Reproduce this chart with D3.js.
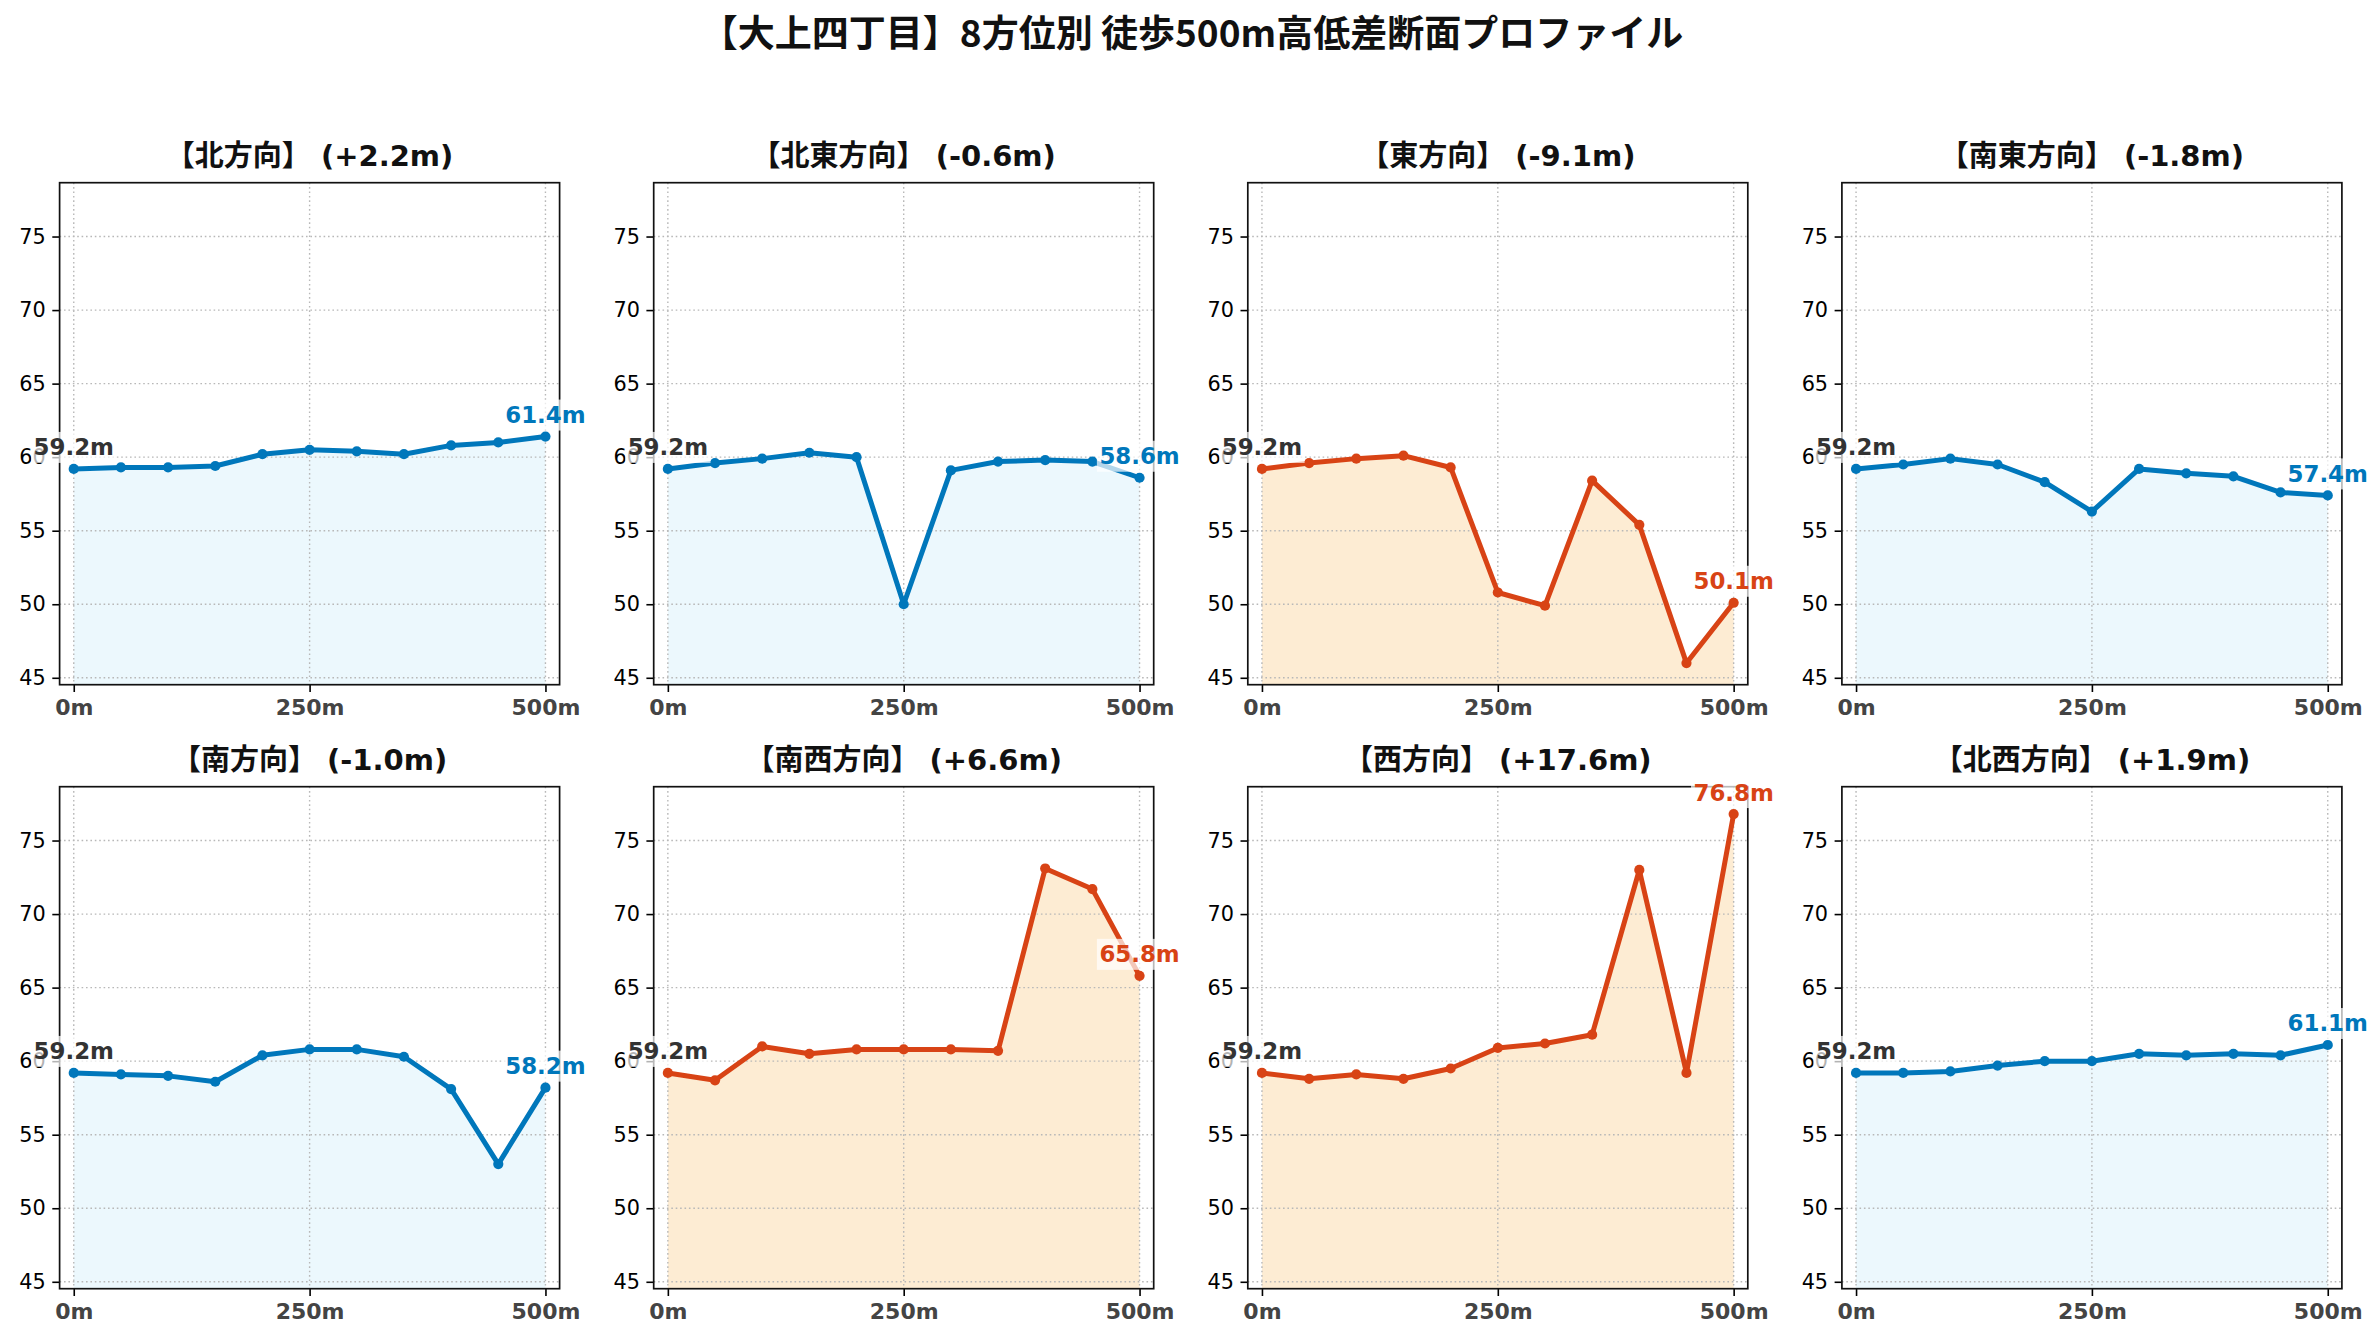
<!DOCTYPE html>
<html>
<head>
<meta charset="utf-8">
<script src="https://cdn.jsdelivr.net/npm/d3@7/dist/d3.min.js"></script>
<style>
  html, body { margin: 0; padding: 0; background: #ffffff; }
  svg { display: block; }
</style>
</head>
<body>
<svg id="chart" width="2380" height="1340"></svg>
<script>
// ---------------- DATA ----------------
const chartTitle = "【大上四丁目】8方位別 徒歩500m高低差断面プロファイル";
const distances = [0, 50, 100, 150, 200, 250, 300, 350, 400, 450, 500];
const directions = ["北", "北東", "東", "南東", "南", "南西", "西", "北西"];

const northValues     = [59.2, 59.3, 59.3, 59.4, 60.2, 60.5, 60.4, 60.2, 60.8, 61.0, 61.4];
const northEastValues = [59.2, 59.6, 59.9, 60.3, 60.0, 50.0, 59.1, 59.7, 59.8, 59.7, 58.6];
const eastValues      = [59.2, 59.6, 59.9, 60.1, 59.3, 50.8, 49.9, 58.4, 55.4, 46.0, 50.1];
const southEastValues = [59.2, 59.5, 59.9, 59.5, 58.3, 56.3, 59.2, 58.9, 58.7, 57.6, 57.4];
const southValues     = [59.2, 59.1, 59.0, 58.6, 60.4, 60.8, 60.8, 60.3, 58.1, 53.0, 58.2];
const southWestValues = [59.2, 58.7, 61.0, 60.5, 60.8, 60.8, 60.8, 60.7, 73.1, 71.7, 65.8];
const westValues      = [59.2, 58.8, 59.1, 58.8, 59.5, 60.9, 61.2, 61.8, 73.0, 59.2, 76.8];
const northWestValues = [59.2, 59.2, 59.3, 59.7, 60.0, 60.0, 60.5, 60.4, 60.5, 60.4, 61.1];

const seriesValues = [northValues, northEastValues, eastValues, southEastValues,
                      southValues, southWestValues, westValues, northWestValues];

const yTickValues = [45, 50, 55, 60, 65, 70, 75];
const xTickValues = [0, 250, 500];
const xTickLabels = ["0m", "250m", "500m"];
const yDomain = [44.53, 78.66];
const xDomain = [-15, 515];

// ---------------- STYLE / LAYOUT ----------------
const blueLine = "#0077BB", blueFill = "#ECF8FD";
const redLine = "#D84315", redFill = "#FDECD3";
const axW = 500, axH = 502;
const left0 = 59.6, colStep = 594.1;
const top0 = 182.7, rowStep = 604;
const latinFont = "'DejaVu Sans', 'Noto Sans CJK JP', sans-serif";
const cjkFont = "'Noto Sans CJK JP', 'DejaVu Sans', sans-serif";

const svg = d3.select("#chart");
svg.append("rect").attr("width", 2380).attr("height", 1340).attr("fill", "#fff");

svg.append("text")
  .attr("x", 1192).attr("y", 47)
  .attr("text-anchor", "middle")
  .attr("font-family", cjkFont)
  .attr("font-weight", "bold")
  .attr("font-size", 37)
  .attr("fill", "#111")
  .text(chartTitle);

directions.forEach((dir, i) => {
  const values = seriesValues[i];
  const col = i % 4, row = Math.floor(i / 4);
  const left = left0 + col * colStep;
  const top = top0 + row * rowStep;
  const diff = values[values.length - 1] - values[0];
  const big = Math.abs(diff) > 5;
  const lineColor = big ? redLine : blueLine;
  const fillColor = big ? redFill : blueFill;

  const x = d3.scaleLinear().domain(xDomain).range([left, left + axW]);
  const y = d3.scaleLinear().domain(yDomain).range([top + axH, top]);

  const g = svg.append("g");
  const pts = distances.map((d, k) => [d, values[k]]);

  // fill
  g.append("path")
    .datum(pts)
    .attr("fill", fillColor)
    .attr("d", d3.area().x(d => x(d[0])).y0(top + axH).y1(d => y(d[1])));

  // grid
  const grid = g.append("g")
    .attr("stroke", "#b8b8b8").attr("stroke-width", 1.4)
    .attr("stroke-dasharray", "1.6,2.8");
  xTickValues.forEach(v => {
    grid.append("line").attr("x1", x(v)).attr("x2", x(v))
      .attr("y1", top).attr("y2", top + axH);
  });
  yTickValues.forEach(v => {
    grid.append("line").attr("x1", left).attr("x2", left + axW)
      .attr("y1", y(v)).attr("y2", y(v));
  });

  // line
  g.append("path")
    .datum(pts)
    .attr("fill", "none")
    .attr("stroke", lineColor)
    .attr("stroke-width", 5)
    .attr("stroke-linejoin", "round")
    .attr("stroke-linecap", "round")
    .attr("d", d3.line().x(d => x(d[0])).y(d => y(d[1])));

  g.selectAll("circle.pt").data(pts).enter().append("circle")
    .attr("cx", d => x(d[0])).attr("cy", d => y(d[1]))
    .attr("r", 5.1).attr("fill", lineColor);

  // axes
  const yAxis = d3.axisLeft(y).tickValues(yTickValues).tickSize(7.3).tickPadding(6.5)
    .tickFormat(d3.format("d"));
  const ya = g.append("g").attr("transform", `translate(${left},0)`).call(yAxis);
  ya.select(".domain").remove();
  ya.selectAll(".tick line").attr("stroke", "#000").attr("stroke-width", 1.6);
  ya.selectAll(".tick text").attr("font-family", latinFont).attr("font-size", 20.8)
    .attr("fill", "#000");

  const xAxis = d3.axisBottom(x).tickValues(xTickValues).tickSize(7.3).tickPadding(7)
    .tickFormat((d, k) => xTickLabels[k]);
  const xa = g.append("g").attr("transform", `translate(0,${top + axH})`).call(xAxis);
  xa.select(".domain").remove();
  xa.selectAll(".tick line").attr("stroke", "#000").attr("stroke-width", 1.6);
  xa.selectAll(".tick text").attr("font-family", latinFont).attr("font-size", 22)
    .attr("font-weight", "bold").attr("fill", "#444");

  // spines
  g.append("rect").attr("x", left).attr("y", top).attr("width", axW).attr("height", axH)
    .attr("fill", "none").attr("stroke", "#111").attr("stroke-width", 1.7);

  // panel title
  const sign = diff >= 0 ? "+" : "-";
  g.append("text")
    .attr("x", left + axW / 2).attr("y", top - 17)
    .attr("text-anchor", "middle")
    .attr("font-family", latinFont)
    .attr("font-weight", "bold")
    .attr("font-size", 29)
    .attr("fill", "#111")
    .text(`【${dir}方向】 (${sign}${Math.abs(diff).toFixed(1)}m)`);

  // annotations
  const labels = [
    { d: pts[0], text: `${values[0].toFixed(1)}m`, color: "#333333" },
    { d: pts[pts.length - 1], text: `${values[values.length - 1].toFixed(1)}m`, color: lineColor }
  ];
  labels.forEach(lb => {
    const lg = g.append("g");
    const t = lg.append("text")
      .attr("x", x(lb.d[0])).attr("y", y(lb.d[1]) - 13.5)
      .attr("text-anchor", "middle")
      .attr("font-family", latinFont)
      .attr("font-weight", "bold")
      .attr("font-size", 22.9)
      .attr("fill", lb.color)
      .text(lb.text);
    const bb = t.node().getBBox();
    const pad = 2.5;
    lg.insert("rect", "text")
      .attr("x", bb.x - pad).attr("y", bb.y - pad)
      .attr("width", bb.width + 2 * pad).attr("height", bb.height + 2 * pad)
      .attr("fill", "#fff").attr("fill-opacity", 0.7);
  });
});
</script>
</body>
</html>
